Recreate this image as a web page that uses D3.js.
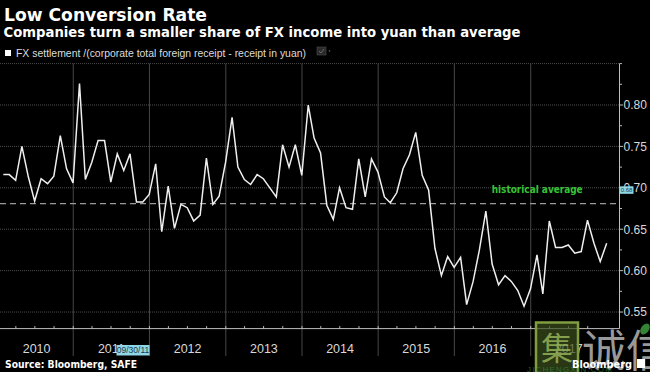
<!DOCTYPE html>
<html>
<head>
<meta charset="utf-8">
<script src="https://cdn.jsdelivr.net/npm/d3@7"></script>
<style>
  html, body { margin: 0; padding: 0; background: #000; }
  svg { display: block; }
</style>
</head>
<body>
<svg id="chart" width="650" height="372"></svg>
<script>
// ---------------- DATA ----------------
const startYear = 2010;
const years = [2010, 2011, 2012, 2013, 2014, 2015, 2016, 2017];
const values = [
  // 2010
  0.716, 0.716, 0.709, 0.750, 0.713, 0.684, 0.711, 0.705, 0.714, 0.763, 0.723, 0.706,
  // 2011
  0.826, 0.710, 0.731, 0.757, 0.757, 0.707, 0.741, 0.721, 0.741, 0.683, 0.683, 0.692,
  // 2012
  0.729, 0.647, 0.702, 0.651, 0.680, 0.676, 0.660, 0.667, 0.736, 0.680, 0.690, 0.731,
  // 2013
  0.785, 0.725, 0.710, 0.704, 0.716, 0.711, 0.700, 0.689, 0.752, 0.725, 0.752, 0.715,
  // 2014
  0.800, 0.760, 0.742, 0.679, 0.662, 0.700, 0.676, 0.674, 0.735, 0.689, 0.735, 0.719,
  // 2015
  0.689, 0.682, 0.694, 0.723, 0.740, 0.767, 0.715, 0.697, 0.627, 0.594, 0.617, 0.604,
  // 2016
  0.616, 0.559, 0.587, 0.625, 0.672, 0.608, 0.583, 0.594, 0.587, 0.576, 0.557, 0.578,
  // 2017
  0.619, 0.572, 0.660, 0.628, 0.628, 0.631, 0.621, 0.623, 0.661, 0.633, 0.611, 0.633
];
const yTickValues = [0.55, 0.60, 0.65, 0.70, 0.75, 0.80];
const yMinorTicks = [0.575, 0.625, 0.675, 0.725, 0.775, 0.825, 0.85];
const historicalAverage = 0.681;
const cursorDate = new Date(2011, 8, 30);
const cursorLabel = "09/30/11";
const avgMarkerLabel = "0.68";

const titleText = "Low Conversion Rate";
const subtitleText = "Companies turn a smaller share of FX income into yuan than average";
const legendText = "FX settlement /(corporate total foreign receipt - receipt in yuan)";
const sourceText = "Source: Bloomberg, SAFE";

// month-end dates
const series = values.map((v, i) => ({ date: new Date(startYear, i + 1, 0), value: v }));

// ---------------- LAYOUT ----------------
const svg = d3.select("#chart");
svg.append("rect").attr("width", 650).attr("height", 372).attr("fill", "#000");

const plotTop = 63.6, plotBottom = 328.6, plotRight = 619.5;

const x = d3.scaleTime()
  .domain([new Date(2010, 0, 1), new Date(2018, 0, 1)])
  .range([-2.93, 606.9]);
const y = d3.scaleLinear()
  .domain([0.53, 0.85])
  .range([plotBottom, plotTop]);

const sans = "'DejaVu Sans', 'Liberation Sans', sans-serif";
const narrow = "'Liberation Sans Narrow', 'Liberation Sans', Arial, sans-serif";

// Title / subtitle
svg.append("text").attr("x", 4).attr("y", 21)
  .attr("font-family", sans).attr("font-weight", "bold").attr("font-size", 17.5)
  .attr("fill", "#fff").attr("textLength", 203).attr("lengthAdjust", "spacingAndGlyphs")
  .text(titleText);
svg.append("text").attr("x", 3.5).attr("y", 37)
  .attr("font-family", sans).attr("font-weight", "bold").attr("font-size", 13.6)
  .attr("fill", "#fff").attr("textLength", 517).attr("lengthAdjust", "spacingAndGlyphs")
  .text(subtitleText);

// Legend
svg.append("rect").attr("x", 5).attr("y", 50).attr("width", 6).attr("height", 6).attr("fill", "#fff");
svg.append("text").attr("x", 16).attr("y", 57)
  .attr("font-family", narrow).attr("font-size", 10.5)
  .attr("fill", "#ddd").attr("textLength", 290).attr("lengthAdjust", "spacingAndGlyphs")
  .text(legendText);
svg.append("rect").attr("x", 317).attr("y", 47).attr("width", 9).attr("height", 8)
  .attr("fill", "#2a2a2a").attr("stroke", "#4a4a4a").attr("stroke-width", 0.6);
svg.append("path").attr("d", "M319,51 L321,53 L324,49").attr("fill", "none")
  .attr("stroke", "#777").attr("stroke-width", 0.8);
svg.append("circle").attr("cx", 329.5).attr("cy", 51).attr("r", 0.8).attr("fill", "#666");

// Horizontal gridlines
const g = svg.append("g");
g.selectAll("line.hgrid").data(yTickValues.concat([0.85])).join("line")
  .attr("class", "hgrid")
  .attr("x1", 0).attr("x2", plotRight)
  .attr("y1", d => y(d)).attr("y2", d => y(d))
  .attr("stroke", "#4c4c4c").attr("stroke-width", 1).attr("stroke-dasharray", "1,1");

// Vertical year gridlines
const yearStarts = years.slice(1).map(yr => new Date(yr, 0, 1));
g.selectAll("line.vgrid").data(yearStarts).join("line")
  .attr("class", "vgrid")
  .attr("x1", d => x(d)).attr("x2", d => x(d))
  .attr("y1", plotTop).attr("y2", 356)
  .attr("stroke", "#474747").attr("stroke-width", 1);

// Historical average dashed line
svg.append("line").attr("x1", 0).attr("x2", plotRight)
  .attr("y1", y(historicalAverage)).attr("y2", y(historicalAverage))
  .attr("stroke", "#9a9a9a").attr("stroke-width", 1.2).attr("stroke-dasharray", "6,4");
svg.append("text").attr("x", 491.7).attr("y", y(0.70) + 5.5)
  .attr("font-family", sans).attr("font-weight", "bold").attr("font-size", 10.5)
  .attr("fill", "#35c435").attr("textLength", 91).attr("lengthAdjust", "spacingAndGlyphs")
  .text("historical average");

// Data line
const line = d3.line().x(d => x(d.date)).y(d => y(d.value));
svg.append("path").datum(series)
  .attr("d", line).attr("fill", "none")
  .attr("stroke", "#efefef").attr("stroke-width", 1.5).attr("stroke-linejoin", "miter");

// X axis
svg.append("line").attr("x1", 0).attr("x2", plotRight)
  .attr("y1", plotBottom).attr("y2", plotBottom)
  .attr("stroke", "#bdbdbd").attr("stroke-width", 1);
const quarterTicks = d3.timeMonth.every(3).range(new Date(2010, 0, 1), new Date(2018, 0, 1));
svg.selectAll("line.qtick").data(quarterTicks).join("line")
  .attr("class", "qtick")
  .attr("x1", d => x(d)).attr("x2", d => x(d))
  .attr("y1", plotBottom - 2.5).attr("y2", plotBottom)
  .attr("stroke", "#bdbdbd").attr("stroke-width", 1);
svg.selectAll("text.year").data(years).join("text")
  .attr("class", "year")
  .attr("x", yr => (Math.max(0, x(new Date(yr, 0, 1))) + x(new Date(yr + 1, 0, 1))) / 2)
  .attr("y", 353)
  .attr("text-anchor", "middle")
  .attr("font-family", narrow).attr("font-size", 12.5).attr("fill", "#d8d8d8")
  .text(d => d);

// Y axis
svg.append("line").attr("x1", plotRight).attr("x2", plotRight)
  .attr("y1", plotTop).attr("y2", plotBottom)
  .attr("stroke", "#bdbdbd").attr("stroke-width", 1);
svg.selectAll("line.ymaj").data(yTickValues).join("line")
  .attr("class", "ymaj")
  .attr("x1", plotRight).attr("x2", plotRight + 3.5)
  .attr("y1", d => y(d)).attr("y2", d => y(d))
  .attr("stroke", "#bdbdbd");
svg.selectAll("line.ymin").data(yMinorTicks).join("line")
  .attr("class", "ymin")
  .attr("x1", plotRight).attr("x2", plotRight + 2.5)
  .attr("y1", d => y(d)).attr("y2", d => y(d))
  .attr("stroke", "#bdbdbd");
svg.selectAll("text.ylab").data(yTickValues).join("text")
  .attr("class", "ylab")
  .attr("x", 623.5).attr("y", d => y(d)).attr("dy", "0.36em")
  .attr("font-family", "'Liberation Sans', Arial, sans-serif").attr("font-size", 12)
  .attr("fill", "#d8d8d8")
  .text(d => d.toFixed(2));

// Average marker box on the axis
svg.append("rect").attr("x", plotRight).attr("y", y(0.70) - 1.5)
  .attr("width", 14).attr("height", 7.5).attr("fill", "#8fd6e6");
svg.append("text").attr("x", plotRight + 7).attr("y", y(0.70) + 4.6)
  .attr("text-anchor", "middle").attr("font-family", narrow).attr("font-size", 6)
  .attr("fill", "#1a3a4a").text(avgMarkerLabel);

// Cursor date box
const cx = x(cursorDate) + 3;
svg.append("rect").attr("x", cx - 16.5).attr("y", 345).attr("width", 33).attr("height", 10.5)
  .attr("fill", "#8fd6e6");
svg.append("text").attr("x", cx).attr("y", 353.3).attr("text-anchor", "middle")
  .attr("font-family", narrow).attr("font-size", 8.5).attr("fill", "#1a3a4a")
  .text(cursorLabel);

// Source
svg.append("text").attr("x", 5).attr("y", 367.5)
  .attr("font-family", sans).attr("font-weight", "bold").attr("font-size", 10.5)
  .attr("fill", "#fff").attr("textLength", 132).attr("lengthAdjust", "spacingAndGlyphs")
  .text(sourceText);

// Watermark
svg.append("rect").attr("x", 536).attr("y", 322.5).attr("width", 42).attr("height", 52)
  .attr("fill", "#3c4f1c").attr("fill-opacity", 0.7)
  .attr("stroke", "#7f9f3f").attr("stroke-width", 2.5);
svg.append("text").attr("x", 557).attr("y", 360).attr("text-anchor", "middle")
  .attr("font-family", "'Noto Sans CJK SC', sans-serif").attr("font-size", 32)
  .attr("fill", "#9cbc5c").attr("fill-opacity", 0.8).text("集");
svg.append("text").attr("x", 582).attr("y", 367)
  .attr("font-family", "'Noto Sans CJK SC', sans-serif").attr("font-size", 44)
  .attr("fill", "#c4c4c4").attr("fill-opacity", 0.8).text("诚信");
svg.append("ellipse").attr("cx", 645).attr("cy", 329).attr("rx", 4).attr("ry", 6)
  .attr("transform", "rotate(35,645,329)").attr("fill", "#3e9a3e").attr("fill-opacity", 0.85);
svg.append("text").attr("x", 527).attr("y", 371.5)
  .attr("font-family", narrow).attr("font-size", 8).attr("letter-spacing", 1.2)
  .attr("fill", "#2e8b3a").attr("fill-opacity", 0.7).text("JICHENGXIN.COM");

// Bloomberg logo
svg.append("text").attr("x", 572).attr("y", 368)
  .attr("font-family", sans).attr("font-weight", "bold").attr("font-size", 11)
  .attr("fill", "#fff").attr("textLength", 60).attr("lengthAdjust", "spacingAndGlyphs")
  .text("Bloomberg");
svg.append("rect").attr("x", 637).attr("y", 359).attr("width", 8).attr("height", 9)
  .attr("fill", "#fff");
</script>
</body>
</html>
